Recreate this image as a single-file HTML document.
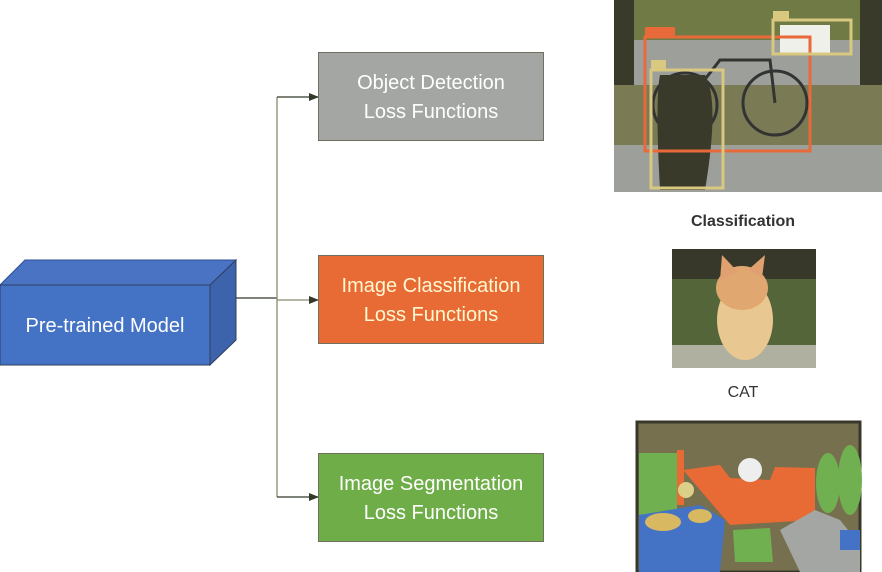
<!DOCTYPE html>
<html><head><meta charset="utf-8"><style>
html,body{margin:0;padding:0;background:#fff;width:882px;height:572px;overflow:hidden}
svg{display:block}
</style></head><body>
<svg width="882" height="572" viewBox="0 0 882 572" xmlns="http://www.w3.org/2000/svg" font-family="Liberation Sans, sans-serif">
<defs><marker id="a" markerWidth="10" markerHeight="8" refX="9" refY="4" orient="auto" markerUnits="userSpaceOnUse"><path d="M0,0 L10,4 L0,8 z" fill="#333a2a"/></marker></defs>
<!-- cube -->
<polygon points="0,285 25,260 236,260 210,285" fill="#4a73c4" stroke="#2f4f8f" stroke-width="1"/>
<polygon points="210,285 236,260 236,340 210,365" fill="#3d63ad" stroke="#2f3f5f" stroke-width="1"/>
<rect x="0" y="285" width="210" height="80" fill="#4472c4" stroke="#2f3f5f" stroke-width="1"/>
<text x="105" y="332" fill="#fff" font-size="20" text-anchor="middle">Pre-trained Model</text>
<!-- connectors -->
<g stroke="#333a2a" stroke-width="1.3" fill="none">
<line x1="236" y1="298" x2="277" y2="298"/>
<line x1="277" y1="97" x2="277" y2="497" stroke="#8a8a70"/>
<line x1="277" y1="97" x2="318" y2="97" marker-end="url(#a)"/>
<line x1="277" y1="300" x2="318" y2="300" stroke="#8a8a70" marker-end="url(#a)"/>
<line x1="277" y1="497" x2="318" y2="497" marker-end="url(#a)"/>
</g>
<!-- boxes -->
<rect x="318.5" y="52.5" width="225" height="88" fill="#a3a6a2" stroke="#707060"/>
<text x="431" y="89" fill="#fff" font-size="20" text-anchor="middle">Object Detection</text>
<text x="431" y="118" fill="#fff" font-size="20" text-anchor="middle">Loss Functions</text>
<rect x="318.5" y="255.5" width="225" height="88" fill="#e86b36" stroke="#707060"/>
<text x="431" y="292" fill="#fff8d0" font-size="20" text-anchor="middle">Image Classification</text>
<text x="431" y="321" fill="#fff8d0" font-size="20" text-anchor="middle">Loss Functions</text>
<rect x="318.5" y="453.5" width="225" height="88" fill="#6fad48" stroke="#707060"/>
<text x="431" y="490" fill="#fff" font-size="20" text-anchor="middle">Image Segmentation</text>
<text x="431" y="519" fill="#fff" font-size="20" text-anchor="middle">Loss Functions</text>
<!-- detection image -->
<rect x="614" y="0" width="268" height="192" fill="#9da09a"/>
<rect x="614" y="0" width="268" height="40" fill="#6f7a45"/>
<rect x="614" y="0" width="20" height="130" fill="#3a3a2a"/>
<rect x="860" y="0" width="22" height="90" fill="#3a3a2a"/>
<rect x="614" y="85" width="268" height="60" fill="#7a7a55"/>
<rect x="780" y="25" width="50" height="30" fill="#f0f0ea"/>
<circle cx="685" cy="105" r="32" fill="none" stroke="#333" stroke-width="3"/>
<circle cx="775" cy="103" r="32" fill="none" stroke="#333" stroke-width="3"/>
<path d="M685,105 L720,60 L770,60 L775,103" stroke="#333" stroke-width="3" fill="none"/>
<path d="M660,75 Q655,100 660,190 L705,190 Q720,100 705,75 Z" fill="#3a3a2a"/>
<rect x="645" y="37" width="165" height="114" fill="none" stroke="#e8693a" stroke-width="3"/>
<rect x="645" y="27" width="30" height="9" fill="#e8693a"/>
<rect x="651" y="70" width="72" height="118" fill="none" stroke="#d8c880" stroke-width="3"/>
<rect x="651" y="60" width="15" height="9" fill="#d8c880"/>
<rect x="773" y="20" width="78" height="34" fill="none" stroke="#d8c880" stroke-width="3"/>
<rect x="773" y="11" width="16" height="9" fill="#d8c880"/>
<text x="743" y="226" font-size="16" font-weight="bold" text-anchor="middle" fill="#333">Classification</text>
<!-- kitten -->
<rect x="672" y="249" width="144" height="119" fill="#55653a"/>
<rect x="672" y="249" width="144" height="30" fill="#38382a"/>
<rect x="672" y="345" width="144" height="23" fill="#b0b0a0"/>
<ellipse cx="745" cy="320" rx="28" ry="40" fill="#e8c890"/>
<ellipse cx="742" cy="288" rx="26" ry="22" fill="#e0a870"/>
<polygon points="720,280 722,255 738,272" fill="#e0a070"/>
<polygon points="762,278 765,255 748,270" fill="#e0a070"/>
<text x="743" y="397" font-size="16" text-anchor="middle" fill="#333">CAT</text>
<!-- segmentation -->
<rect x="637" y="422" width="223" height="150" fill="#77704f"/>
<rect x="637" y="422" width="223" height="150" fill="none" stroke="#38382a" stroke-width="3"/>
<rect x="639" y="453" width="38" height="65" fill="#70b050"/>
<path d="M683,470 L720,465 L730,478 L770,480 L775,467 L815,468 L815,520 L730,525 Z" fill="#e86a35"/>
<rect x="677" y="450" width="7" height="55" fill="#e86a35"/>
<circle cx="750" cy="470" r="12" fill="#eee"/>
<path d="M639,515 L700,505 L725,520 L720,572 L639,572 Z" fill="#4472c4"/>
<ellipse cx="663" cy="522" rx="18" ry="9" fill="#d8b860"/>
<ellipse cx="700" cy="516" rx="12" ry="7" fill="#d8b860"/>
<circle cx="686" cy="490" r="8" fill="#dccf88"/>
<path d="M733,530 L770,528 L773,562 L735,562 Z" fill="#70b050"/>
<path d="M780,530 L815,510 L840,520 L860,545 L860,572 L800,572 Z" fill="#a3a6a2"/>
<ellipse cx="828" cy="483" rx="12" ry="30" fill="#70b050"/>
<ellipse cx="850" cy="480" rx="12" ry="35" fill="#70b050"/>
<rect x="840" y="530" width="20" height="20" fill="#4472c4"/>
</svg>
</body></html>
